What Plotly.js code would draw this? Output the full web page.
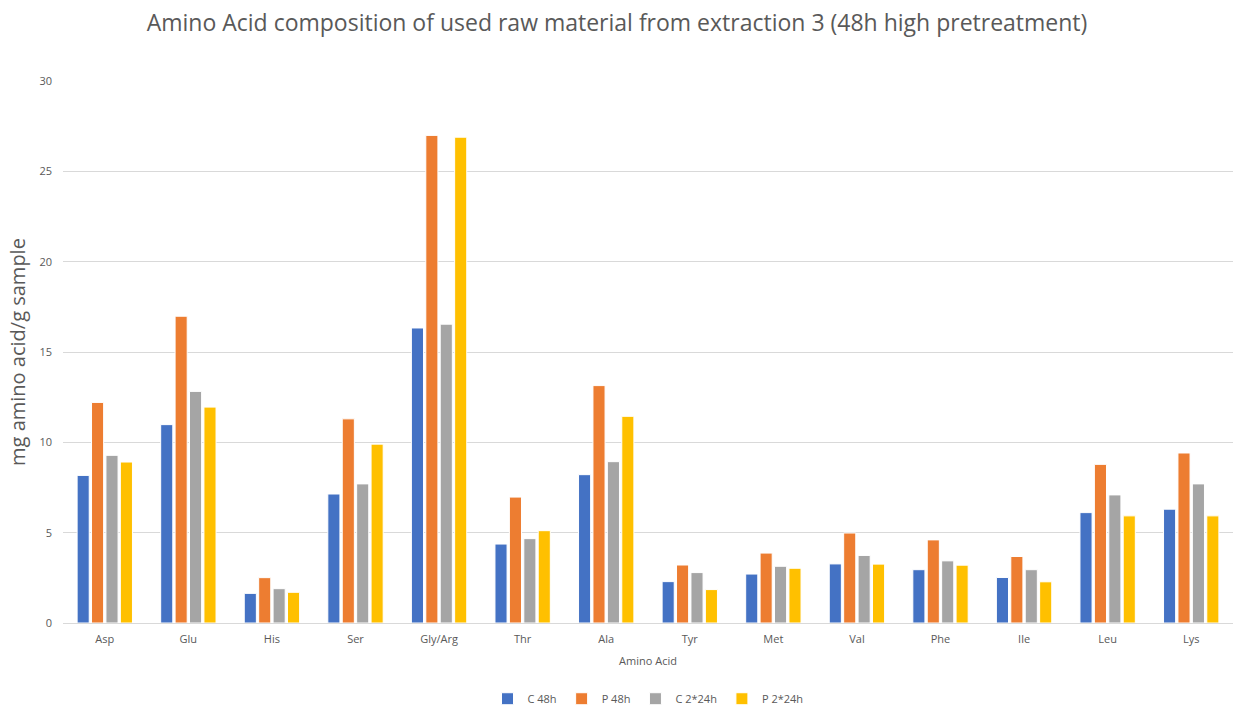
<!DOCTYPE html>
<html>
<head>
<meta charset="utf-8">
<script src="https://cdn.plot.ly/plotly-3.0.1.min.js"></script>
<style>
  html, body { margin: 0; padding: 0; background: #ffffff; }
  #chart { width: 1234px; height: 709px; }
</style>
</head>
<body>
<div id="chart"></div>
<script>
// Amino acids on the category axis
const aminoAcids = ["Asp", "Glu", "His", "Ser", "Gly/Arg", "Thr", "Ala", "Tyr", "Met", "Val", "Phe", "Ile", "Leu", "Lys"];

// mg amino acid per g sample for each treatment
const c48h   = [8.17, 10.98, 1.64, 7.14, 16.33, 4.37, 8.21, 2.29, 2.71, 3.27, 2.95, 2.52, 6.11, 6.30];
const p48h   = [12.21, 16.98, 2.51, 11.30, 26.99, 6.97, 13.14, 3.21, 3.87, 4.98, 4.60, 3.68, 8.78, 9.41];
const c2x24h = [9.28, 12.82, 1.90, 7.70, 16.54, 4.67, 8.93, 2.79, 3.14, 3.74, 3.44, 2.95, 7.09, 7.70];
const p2x24h = [8.91, 11.95, 1.70, 9.90, 26.89, 5.11, 11.44, 1.85, 3.03, 3.26, 3.20, 2.28, 5.93, 5.93];

const seriesNames = ["C 48h", "P 48h", "C 2*24h", "P 2*24h"];
const seriesValues = [c48h, p48h, c2x24h, p2x24h];
const seriesColors = ["#4472c4", "#ed7d31", "#a5a5a5", "#ffc000"];

const traces = seriesNames.map((name, i) => ({
  type: "bar",
  name: name,
  x: aminoAcids,
  y: seriesValues[i],
  marker: { color: seriesColors[i], line: { color: "#ffffff", width: 1 } },
  hovertemplate: "%{x}: %{y}<extra>" + name + "</extra>"
}));

const textGrey = "#595959";
const bodyFont = "'Open Sans', sans-serif";

const layout = {
  width: 1234,
  height: 709,
  paper_bgcolor: "#ffffff",
  plot_bgcolor: "#ffffff",
  margin: { l: 63, r: 1, t: 81, b: 86 },
  barmode: "group",
  bargap: 0.31,
  bargroupgap: 0.16,
  title: {
    text: "Amino Acid composition of used raw material from extraction 3 (48h high pretreatment)",
    font: { family: bodyFont, size: 23, color: textGrey },
    x: 0.5,
    xanchor: "center",
    y: 0.967,
    yanchor: "middle"
  },
  xaxis: {
    type: "category",
    automargin: false,
    showgrid: false,
    showline: true,
    linecolor: "#d9d9d9",
    linewidth: 1,
    ticks: "",
    ticklabelstandoff: 6,
    tickfont: { family: bodyFont, size: 11, color: textGrey },
    title: {
      text: "Amino Acid",
      font: { family: bodyFont, size: 11, color: textGrey },
      standoff: 12
    }
  },
  yaxis: {
    range: [0, 30],
    dtick: 5,
    automargin: false,
    showgrid: true,
    gridcolor: "#d9d9d9",
    gridwidth: 1,
    zeroline: false,
    showline: false,
    ticks: "",
    ticklabelstandoff: 10,
    tickfont: { family: bodyFont, size: 11, color: textGrey },
    title: {
      text: "mg amino acid/g sample",
      font: { family: bodyFont, size: 20, color: textGrey },
      standoff: 8
    }
  },
  showlegend: true,
  legend: {
    orientation: "h",
    x: 0.5,
    xanchor: "center",
    yref: "container",
    y: 0.0145,
    yanchor: "middle",
    font: { family: bodyFont, size: 11, color: textGrey },
    itemwidth: 30,
    traceorder: "normal"
  }
};

Plotly.newPlot("chart", traces, layout, { displayModeBar: false, responsive: false });
</script>
</body>
</html>
